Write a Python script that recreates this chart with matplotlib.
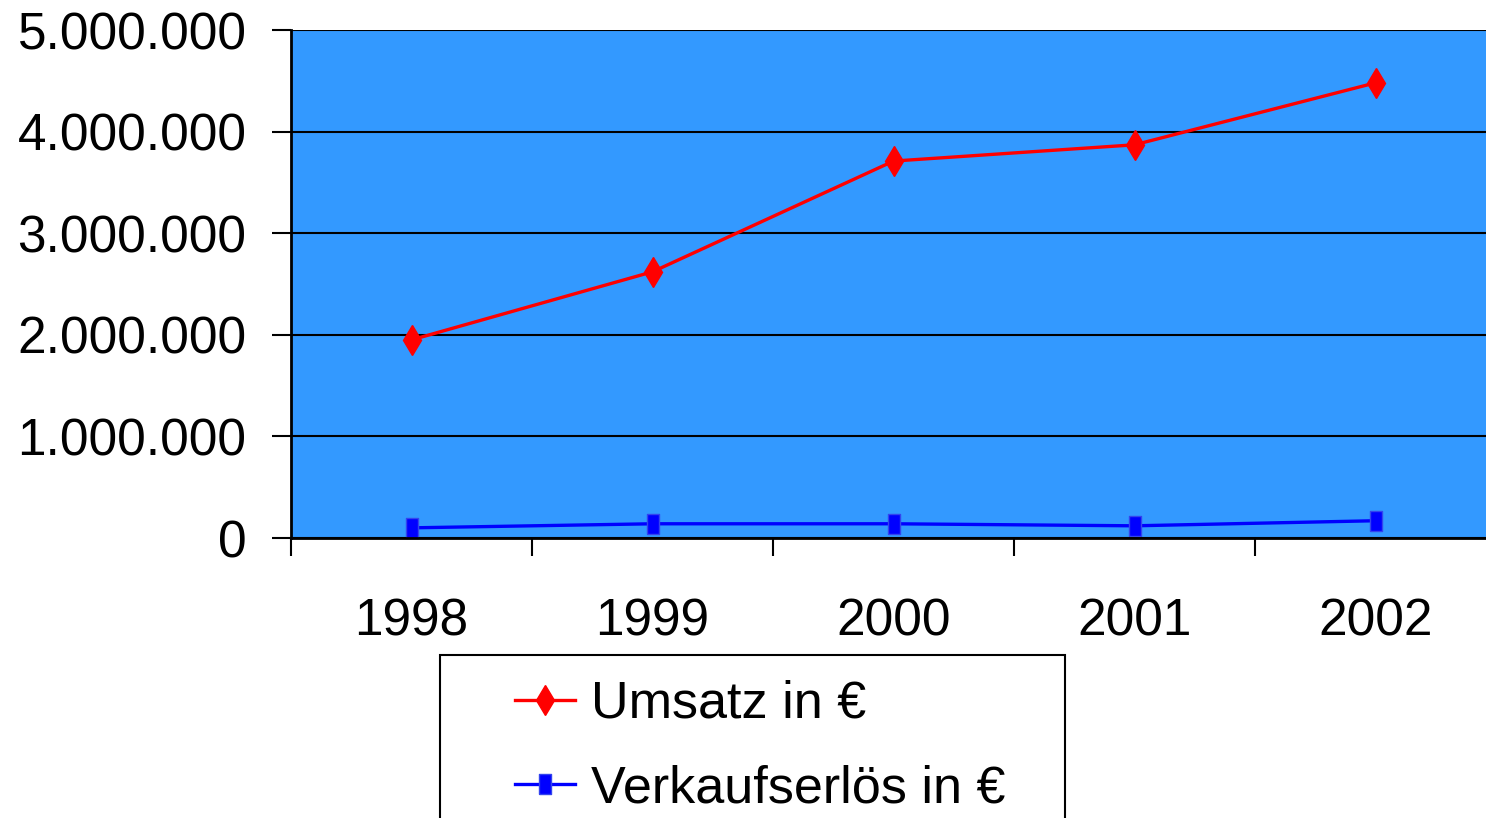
import numpy as np
import matplotlib.pyplot as plt
from matplotlib.patches import Rectangle
from matplotlib.ticker import FuncFormatter

plt.rcParams['font.family'] = ['Liberation Sans', 'DejaVu Sans']

years = ['1998', '1999', '2000', '2001', '2002']
umsatz = [1950000, 2620000, 3710000, 3870000, 4480000]
verkauf = [100000, 140000, 140000, 120000, 170000]
yticks = [0, 1000000, 2000000, 3000000, 4000000, 5000000]


def de_fmt(v, pos):
    return '{:,.0f}'.format(v).replace(',', '.')


fig = plt.figure(figsize=(14.86, 8.18), dpi=100)
W, H = 1486, 818
ax = fig.add_axes([291 / W, 1 - 538 / H, 1205 / W, 508 / H])
ax.set_facecolor('#3399FF')

x = np.arange(len(years))
rect = [(-0.6, -1), (0.6, -1), (0.6, 1), (-0.6, 1), (-0.6, -1)]
ax.plot(x, umsatz, color='#FF0000', lw=2.4, marker='d', ms=15,
        mec='#FF0000', mfc='#FF0000', label='Umsatz in €', clip_on=False)
ax.plot(x, verkauf, color='#0000FF', lw=2.4, marker=rect, ms=15,
        mec='#3344EE', mfc='#0000FF', mew=1, label='Verkaufserlös in €', clip_on=False)

ax.set_xlim(-0.5, 4.5)
ax.set_ylim(0, 5000000)
ax.set_yticks(yticks)
ax.yaxis.set_major_formatter(FuncFormatter(de_fmt))
ax.grid(axis='y', color='black', lw=1.5)
ax.set_axisbelow(True)

ax.set_xticks(np.arange(-0.5, 5, 1))
ax.set_xticklabels([])
ax.set_xticks(x, minor=True)
ax.set_xticklabels(years, minor=True)
ax.tick_params(axis='x', which='major', length=13, width=1.5, direction='out')
ax.tick_params(axis='x', which='minor', length=0, pad=43, labelsize=37)
ax.tick_params(axis='y', length=14, width=1.5, pad=18, labelsize=37)

for s in ['top', 'right']:
    ax.spines[s].set_visible(False)
for s in ['left', 'bottom']:
    ax.spines[s].set_linewidth(2)
    ax.spines[s].set_color('black')

leg = fig.legend(loc='upper left', bbox_to_anchor=(515 / W, 1 - 680 / H),
                 frameon=False, fontsize=37.5, handlelength=1.15,
                 handletextpad=0.3, labelspacing=0.68, borderpad=0,
                 borderaxespad=0)
fig.add_artist(Rectangle((440 / W, -0.05), 625 / W, (1 - 655 / H) + 0.05,
                         transform=fig.transFigure, fill=False,
                         edgecolor='black', lw=1.5))

fig.savefig('out.png', dpi=100)
